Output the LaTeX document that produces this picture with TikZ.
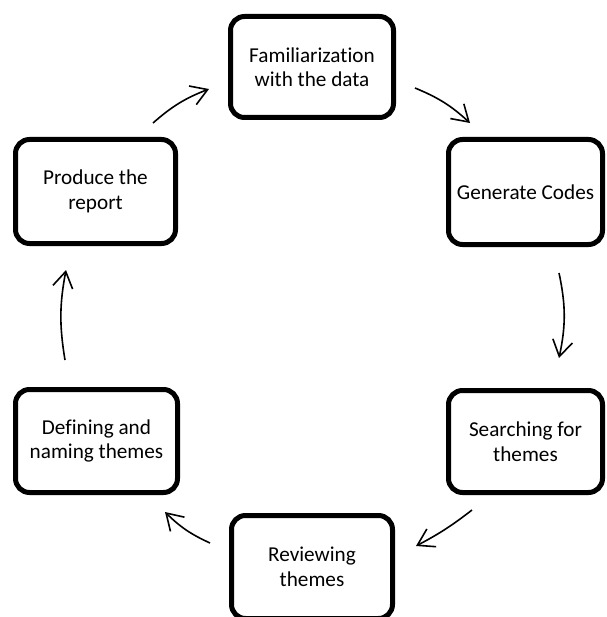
\documentclass[tikz,border=0pt]{standalone}
\usepackage{fontspec}
\setmainfont[Ligatures=NoCommon]{Carlito}
\usetikzlibrary{arrows.meta}
\begin{document}
\begin{tikzpicture}[x=1pt,y=1pt,
  stage/.style={draw=black, fill=white, line width=5pt, rounded corners=14pt,
    align=center, inner sep=0pt, font=\fontsize{21.2}{24.5}\selectfont},
  flow/.style={line width=1.6pt, -{Straight Barb[length=16pt,width=20pt]}}]
\clip (0,0) rectangle (606,-617);

% the six stages of the cycle
\node[stage, minimum width=163pt, minimum height=101pt] (fam) at (312,-67) {Familiarization\\with the data};
\node[stage, minimum width=154pt, minimum height=105pt] (gen) at (525.5,-192) {Generate Codes};
\node[stage, minimum width=154pt, minimum height=102pt] (sea) at (525.5,-441.5) {Searching for\\themes};
\node[stage, minimum width=161pt, minimum height=103pt] (rev) at (312,-567) {Reviewing\\themes};
\node[stage, minimum width=162pt, minimum height=103pt] (def) at (96.5,-441) {Defining and\\naming themes};
\node[stage, minimum width=160pt, minimum height=104pt] (pro) at (95.5,-191.5) {Produce the\\report};

% free ends of the curved arrows between the stages
\coordinate (a1s) at (153,-123); \coordinate (a1e) at (209,-89);
\coordinate (a2s) at (415,-88);  \coordinate (a2e) at (470,-123);
\coordinate (a3s) at (559,-273); \coordinate (a3e) at (559,-358);
\coordinate (a4s) at (472,-510); \coordinate (a4e) at (416,-546);
\coordinate (a5s) at (210,-543); \coordinate (a5e) at (165,-512);
\coordinate (a6s) at (65,-360);  \coordinate (a6e) at (66,-270);

\draw[flow] (a1s) to[bend left=10] (a1e);
\draw[flow] (a2s) to[bend left=10] (a2e);
\draw[flow] (a3s) to[bend left=12] (a3e);
\draw[flow] (a4s) to[bend left=5] (a4e);
\draw[flow] (a5s) to[bend left=10] (a5e);
\draw[flow] (a6s) to[bend left=10] (a6e);
\end{tikzpicture}
\end{document}
